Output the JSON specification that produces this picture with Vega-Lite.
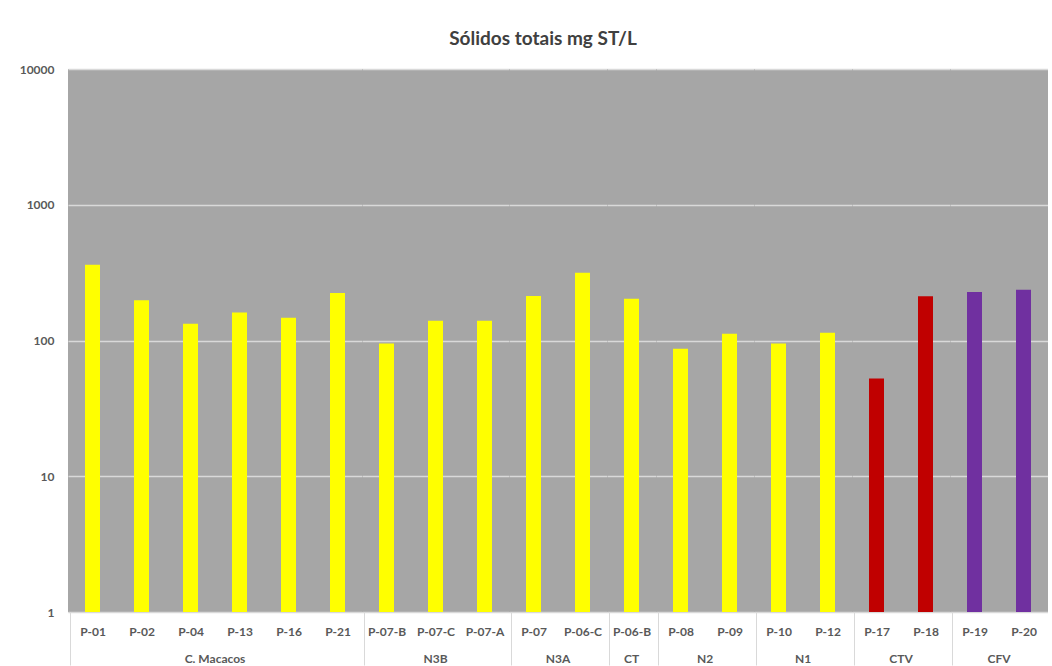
{
  "$schema": "https://vega.github.io/schema/vega-lite/v6.json",
  "background": "white",
  "padding": {"left": 0, "top": 30, "right": 0, "bottom": 0},
  "title": {"text": "Sólidos totais mg ST/L", "fontSize": 19, "font": "Lato", "fontWeight": "bold", "color": "#404040", "anchor": "middle", "frame": "bounds", "offset": 14, "dx": 19},
  "data": {"values": [
    {"site": "P-01", "group": "C. Macacos", "value": 362},
    {"site": "P-02", "group": "C. Macacos", "value": 198},
    {"site": "P-04", "group": "C. Macacos", "value": 133},
    {"site": "P-13", "group": "C. Macacos", "value": 161},
    {"site": "P-16", "group": "C. Macacos", "value": 147},
    {"site": "P-21", "group": "C. Macacos", "value": 224},
    {"site": "P-07-B", "group": "N3B", "value": 95},
    {"site": "P-07-C", "group": "N3B", "value": 140},
    {"site": "P-07-A", "group": "N3B", "value": 140},
    {"site": "P-07", "group": "N3A", "value": 213},
    {"site": "P-06-C", "group": "N3A", "value": 315},
    {"site": "P-06-B", "group": "CT", "value": 203},
    {"site": "P-08", "group": "N2", "value": 87},
    {"site": "P-09", "group": "N2", "value": 112},
    {"site": "P-10", "group": "N1", "value": 95},
    {"site": "P-12", "group": "N1", "value": 114},
    {"site": "P-17", "group": "CTV", "value": 52.6},
    {"site": "P-18", "group": "CTV", "value": 212},
    {"site": "P-19", "group": "CFV", "value": 228},
    {"site": "P-20", "group": "CFV", "value": 237}
  ]},
  "facet": {
    "column": {
      "field": "group", "type": "nominal",
      "sort": ["C. Macacos", "N3B", "N3A", "CT", "N2", "N1", "CTV", "CFV"],
      "header": {"title": null, "labelOrient": "bottom", "labelFont": "Lato", "labelFontSize": 12, "labelFontWeight": "bold", "labelColor": "#595959", "labelPadding": -12}
    }
  },
  "spacing": 0,
  "resolve": {"scale": {"x": "independent"}},
  "spec": {
    "width": {"step": 49},
    "height": 543,
    "mark": {"type": "bar", "width": 15, "stroke": null},
    "encoding": {
      "x": {
        "field": "site", "type": "nominal", "sort": null, "title": null,
        "axis": {
          "labelAngle": 0, "labelFont": "Lato", "labelFontSize": 12, "labelFontWeight": "bold", "labelColor": "#595959",
          "grid": false, "tickBand": "extent", "tickSize": 53, "labelPadding": -39, "tickWidth": 1,
          "tickColor": {"condition": {"test": "datum.index < 0", "value": "#d9d9d9"}, "value": "transparent"},
          "domainColor": "#d9d9d9"
        }
      },
      "y": {
        "field": "value", "type": "quantitative", "title": null,
        "scale": {"type": "log", "domain": [1, 10000]},
        "axis": {"values": [1, 10, 100, 1000, 10000], "format": "d", "labelFont": "Lato", "labelFontSize": 12, "labelFontWeight": "bold", "labelColor": "#595959", "ticks": false, "domain": false, "labelPadding": 14, "minExtent": 68, "maxExtent": 68, "gridColor": "#d9d9d9", "gridWidth": 1.3}
      },
      "y2": {"datum": 1},
      "color": {
        "field": "group", "type": "nominal", "legend": null,
        "scale": {"domain": ["C. Macacos", "N3B", "N3A", "CT", "N2", "N1", "CTV", "CFV"], "range": ["#ffff00", "#ffff00", "#ffff00", "#ffff00", "#ffff00", "#ffff00", "#c00000", "#7030a0"]}
      }
    }
  },
  "config": {"view": {"fill": "#a6a6a6", "stroke": null}}
}
